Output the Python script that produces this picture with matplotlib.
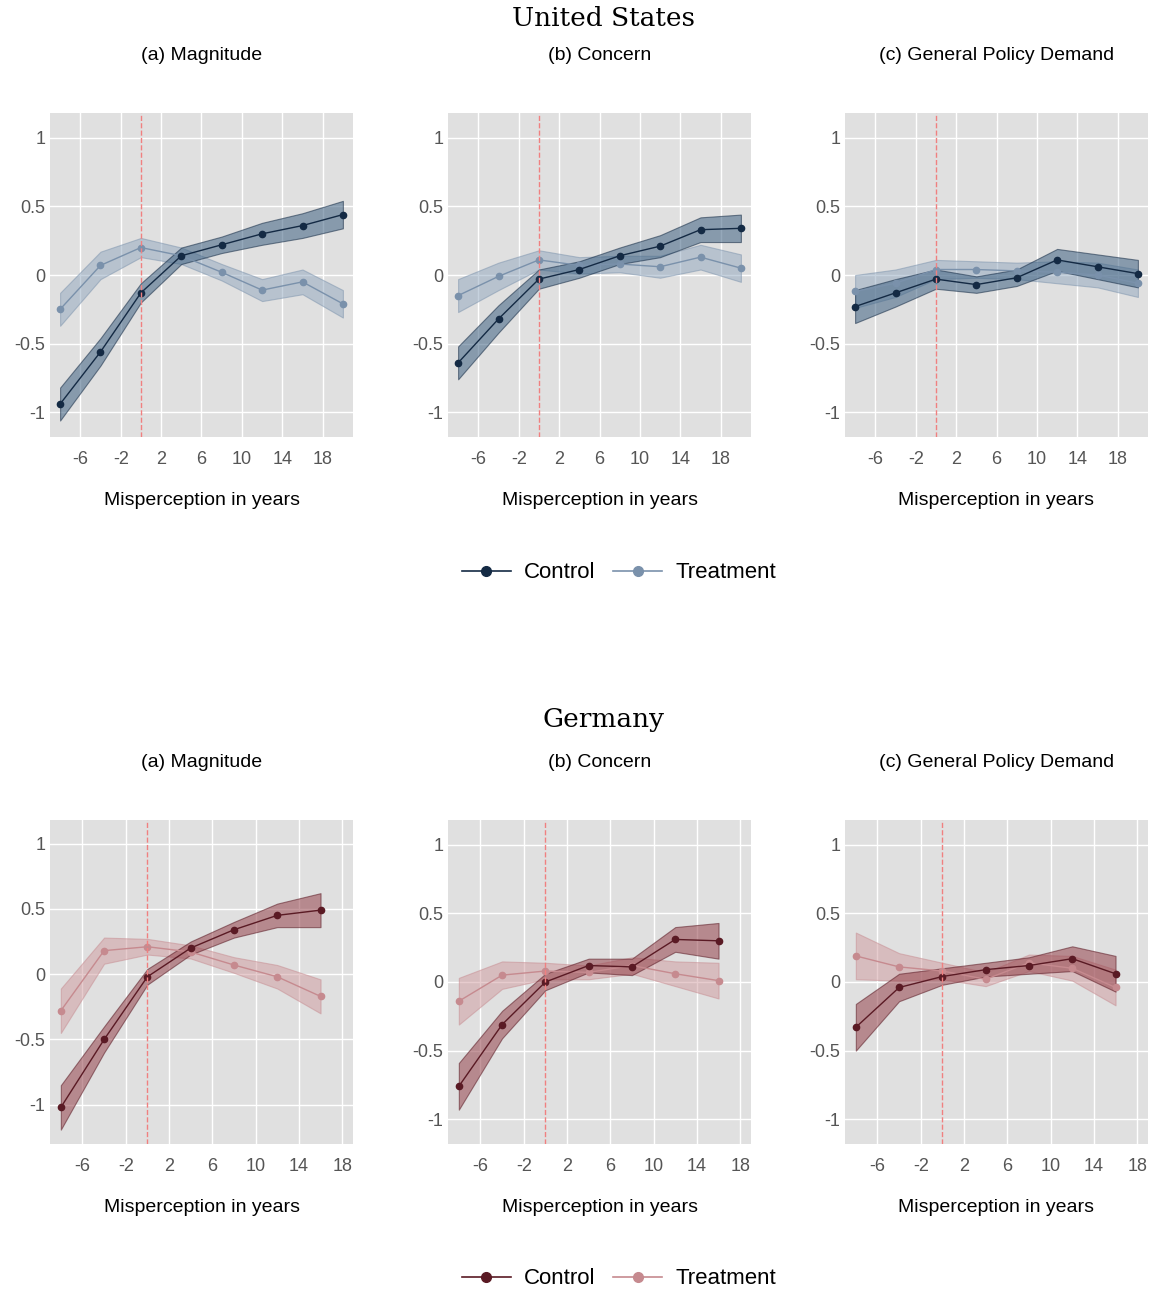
import matplotlib
matplotlib.use("Agg")
import matplotlib.pyplot as plt
import numpy as np

x_us = [-8, -4, 0, 4, 8, 12, 16, 20]
x_de = [-8, -4, 0, 4, 8, 12, 16]
panels = ["(a) Magnitude", "(b) Concern", "(c) General Policy Demand"]

us_ctrl = [[-0.94, -0.56, -0.13, 0.14, 0.22, 0.30, 0.36, 0.44],
           [-0.64, -0.32, -0.03, 0.04, 0.14, 0.21, 0.33, 0.34],
           [-0.23, -0.13, -0.03, -0.07, -0.02, 0.11, 0.06, 0.01]]
us_treat = [[-0.25, 0.07, 0.20, 0.14, 0.02, -0.11, -0.05, -0.21],
            [-0.15, -0.01, 0.11, 0.07, 0.08, 0.06, 0.13, 0.05],
            [-0.12, -0.06, 0.04, 0.04, 0.03, 0.02, 0.00, -0.06]]
us_ci = [0.12, 0.10, 0.07, 0.06, 0.06, 0.08, 0.09, 0.10]

de_ctrl = [[-1.02, -0.50, -0.02, 0.20, 0.34, 0.45, 0.49],
           [-0.76, -0.31, 0.00, 0.12, 0.11, 0.31, 0.30],
           [-0.33, -0.04, 0.04, 0.09, 0.12, 0.17, 0.06]]
de_treat = [[-0.28, 0.18, 0.21, 0.17, 0.07, -0.02, -0.17],
            [-0.14, 0.05, 0.08, 0.07, 0.12, 0.06, 0.01],
            [0.19, 0.11, 0.08, 0.02, 0.14, 0.10, -0.04]]
de_ci = [0.17, 0.10, 0.06, 0.05, 0.06, 0.09, 0.13]

xticks = [-6, -2, 2, 6, 10, 14, 18]
yticks = [-1, -0.5, 0, 0.5, 1]
ylabels = ["-1", "-0.5", "0", "0.5", "1"]

W, H = 1153, 1293
plt.rcParams['font.family'] = ['Liberation Sans', 'DejaVu Sans']
plt.rcParams['axes.unicode_minus'] = False
fig = plt.figure(figsize=(W/100, H/100), dpi=100)

cols = [(50, 353), (448, 751), (845, 1148)]
rows = [(113, 437), (820, 1144)]

def ax_at(x0, x1, y0, y1):
    return fig.add_axes([x0/W, 1-y1/H, (x1-x0)/W, (y1-y0)/H])

sets = [("United States", x_us, us_ctrl, us_treat, us_ci, "#142a44", "#7a91ab", "#3f6282", "#8fa6be", (-9, 21), 19, 573),
        ("Germany", x_de, de_ctrl, de_treat, de_ci, "#5a1a24", "#c68a8f", "#94424b", "#d09a9e", (-9, 19), 720, 1279)]

for r, (title, xs, ctrl, treat, ci, cc, tc, cf, tf, xl, ty, ly) in enumerate(sets):
    fig.text(603/W, 1-ty/H, title, ha='center', va='center', fontsize=19, family=['DejaVu Serif'])
    for c in range(3):
        ax = ax_at(cols[c][0], cols[c][1], rows[r][0], rows[r][1])
        ax.set_facecolor("#e0e0e0")
        for s in ax.spines.values():
            s.set_visible(False)
        ax.grid(True, color='white', lw=1)
        ax.set_axisbelow(True)
        ci_arr = np.array(ci)
        t = np.array(treat[c]); k = np.array(ctrl[c])
        ax.fill_between(xs, t-ci_arr, t+ci_arr, facecolor=tf, alpha=0.5, lw=0.8, edgecolor=tc)
        ax.plot(xs, t, color=tc, lw=1, marker='o', ms=4.5)
        ax.fill_between(xs, k-ci_arr, k+ci_arr, facecolor=cf, alpha=0.55, lw=0.8, edgecolor=cc)
        ax.plot(xs, k, color=cc, lw=1, marker='o', ms=4.5)
        ax.axvline(0, color='#f08080', ls='--', lw=1)
        ax.set_xlim(*xl)
        if r == 1 and c == 0:
            ax.set_ylim(-1.3, 1.18)
        else:
            ax.set_ylim(-1.18, 1.18)
        ax.set_xticks(xticks)
        ax.set_yticks(yticks)
        ax.set_yticklabels(ylabels)
        ax.tick_params(length=0, labelsize=13, labelcolor='#555555')
        ax.tick_params(axis='x', pad=10)
        ax.set_xlabel("Misperception in years", fontsize=14, labelpad=17)
        ax.set_title(panels[c], fontsize=14, pad=38)
    h1, = fig.axes[-1].plot([], [], color=cc, marker='o', ms=7, lw=1.2)
    h2, = fig.axes[-1].plot([], [], color=tc, marker='o', ms=7, lw=1.2)
    fig.legend([h1, h2], ["Control", "Treatment"], loc='center', bbox_to_anchor=(0.537, 1-ly/H),
               ncol=2, frameon=False, fontsize=16, handlelength=2.2, columnspacing=0.8, handletextpad=0.6)

fig.savefig("out.png", dpi=100)
